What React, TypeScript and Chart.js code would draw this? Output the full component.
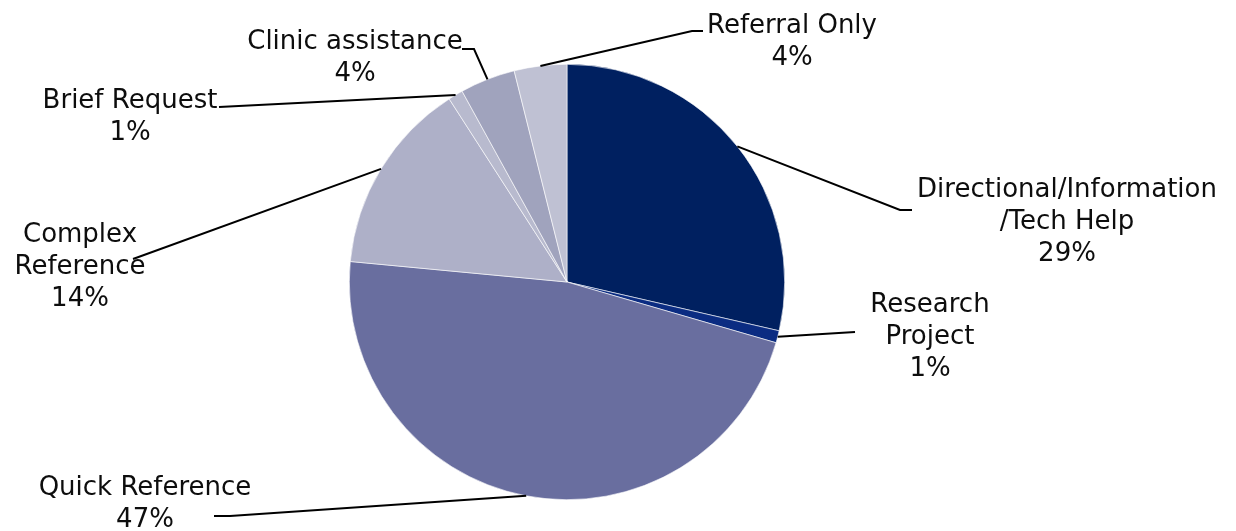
import React, { useEffect, useRef } from 'react';
import { Chart, registerables } from 'chart.js';
Chart.register(...registerables);

const categories = [
  'Directional/Information/Tech Help',
  'Research Project',
  'Quick Reference',
  'Complex Reference',
  'Brief Request',
  'Clinic assistance',
  'Referral Only',
];
const values = [28.6, 0.9, 47.0, 14.4, 1.1, 4.1, 3.9];
const colors = ['#002060', '#0B2C82', '#696E9F', '#AEB0C8', '#B8BACE', '#A0A3BD', '#BFC1D3'];
const labelLines = [
  ['Directional/Information', '/Tech Help'],
  ['Research', 'Project'],
  ['Quick Reference'],
  ['Complex', 'Reference'],
  ['Brief Request'],
  ['Clinic assistance'],
  ['Referral Only'],
];
// label placement: text centre x, first baseline y, leader-line points after the arc edge
const labelLayout = [
  { x: 1067, y: 197, path: [[900, 210], [912, 210]] },
  { x: 930, y: 312, path: [[855, 332]] },
  { x: 145, y: 495, path: [[230, 516], [214, 516]] },
  { x: 80, y: 242, path: [[133, 259]] },
  { x: 130, y: 108, path: [[219, 107]] },
  { x: 355, y: 49, path: [[474, 49], [462, 49]] },
  { x: 792, y: 33, path: [[692, 31], [703, 31]] },
];
const FONT = '26px "DejaVu Sans"';
const LINE_H = 32;

const labelPlugin = {
  id: 'leaderLabels',
  afterDraw(chart: any) {
    const ctx = chart.ctx;
    const meta = chart.getDatasetMeta(0);
    const total = values.reduce((a, b) => a + b, 0);
    ctx.save();
    meta.data.forEach((arc: any, i: number) => {
      const p = arc.getProps(['x', 'y', 'startAngle', 'endAngle', 'outerRadius'], true);
      const mid = (p.startAngle + p.endAngle) / 2;
      const sx = p.x + Math.cos(mid) * p.outerRadius;
      const sy = p.y + Math.sin(mid) * p.outerRadius;
      const lay = labelLayout[i];
      ctx.beginPath();
      ctx.moveTo(sx, sy);
      lay.path.forEach((pt) => ctx.lineTo(pt[0], pt[1]));
      ctx.strokeStyle = '#000';
      ctx.lineWidth = 2;
      ctx.stroke();
      ctx.font = FONT;
      ctx.fillStyle = '#0d0d0d';
      ctx.textAlign = 'center';
      ctx.textBaseline = 'alphabetic';
      const lines = [...labelLines[i], Math.round((values[i] / total) * 100) + '%'];
      lines.forEach((t, k) => ctx.fillText(t, lay.x, lay.y + k * LINE_H));
    });
    ctx.restore();
  },
};

export default function App() {
  const ref = useRef<HTMLCanvasElement>(null);
  useEffect(() => {
    document.body.style.margin = '0';
    const chart = new Chart(ref.current as HTMLCanvasElement, {
      type: 'pie',
      data: {
        labels: categories,
        datasets: [
          {
            data: values,
            backgroundColor: colors,
            borderColor: '#ffffff',
            borderWidth: 0.6,
          },
        ],
      },
      options: {
        animation: false,
        responsive: false,
        layout: { padding: { top: 64, bottom: 31, left: 200, right: 302 } },
        plugins: { legend: { display: false }, tooltip: { enabled: false } },
      },
      plugins: [labelPlugin],
    });
    return () => chart.destroy();
  }, []);
  return (
    <div style={{ width: 1236, height: 531, background: '#fff' }}>
      <canvas ref={ref} width={1236} height={531} />
    </div>
  );
}
